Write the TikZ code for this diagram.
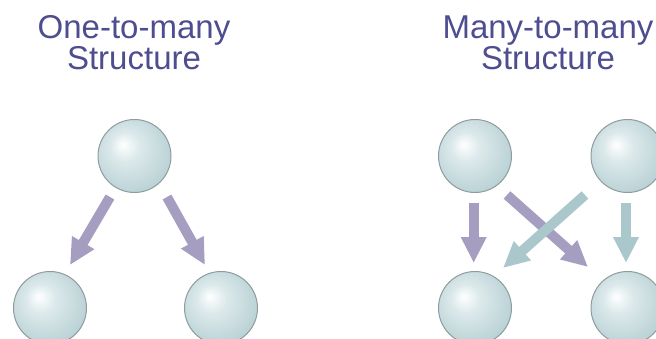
\documentclass[tikz,border=0pt]{standalone}
\usepackage{fontspec}
\setmainfont{Liberation Sans}
\usetikzlibrary{arrows.meta}
\definecolor{titlecol}{HTML}{4D4D8F}
\definecolor{purplearr}{HTML}{A59EC0}
\definecolor{tealarr}{HTML}{AAC8CC}
\definecolor{ballmid}{HTML}{DCE9EB}
\definecolor{ballout}{HTML}{B3CDD1}
\definecolor{ballline}{HTML}{8E9C9E}
\pgfdeclareradialshading{sphereshade}{\pgfpoint{-8bp}{8bp}}{color(0bp)=(white); color(10bp)=(ballmid); color(33bp)=(ballout); color(50bp)=(ballout)}
\begin{document}
\begin{tikzpicture}[x=1pt,y=-1pt,
  ball/.style={circle, minimum size=73pt, inner sep=0pt, draw=ballline, line width=1pt, shading=sphereshade},
  title/.style={anchor=base, align=center, text=titlecol, font=\fontsize{33pt}{28.5pt}\selectfont, inner sep=0pt},
  arr/.style={line width=10pt, -{Triangle[length=26pt,width=24pt]}},
  parr/.style={arr, draw=purplearr, fill=purplearr},
  tarr/.style={arr, draw=tealarr, fill=tealarr}]
\useasboundingbox (0,0) rectangle (656,338);
% titles (anchor = baseline of the second line)
\node[title] (t1) at (134,69.5) {One-to-many\\Structure};
\node[title] (t2) at (548,69.5) {Many-to-many\\Structure};
% one-to-many
\node[ball] (oa) at (134.5,156) {};
\node[ball] (ob) at (50,308) {};
\node[ball] (oc) at (221,308) {};
\coordinate (l1s) at (110,197);
\coordinate (l1e) at (70,265);
\coordinate (r1s) at (167,197);
\coordinate (r1e) at (205,265);
\draw[parr] (l1s) -- (l1e);
\draw[parr] (r1s) -- (r1e);
% many-to-many
\node[ball] (ma) at (475,156) {};
\node[ball] (mb) at (627.5,156) {};
\node[ball] (mc) at (475,308) {};
\node[ball] (md) at (627.5,308) {};
\coordinate (v1s) at (473.7,203);
\coordinate (v1e) at (473.7,263);
\coordinate (v2s) at (626,203);
\coordinate (v2e) at (626,263);
\coordinate (d1s) at (507,195);
\coordinate (d1e) at (588,267);
\coordinate (d2s) at (585,195);
\coordinate (d2e) at (503,268);
\draw[parr] (v1s) -- (v1e);
\draw[parr] (d1s) -- (d1e);
\draw[tarr] (d2s) -- (d2e);
\draw[tarr] (v2s) -- (v2e);
\end{tikzpicture}
\end{document}
